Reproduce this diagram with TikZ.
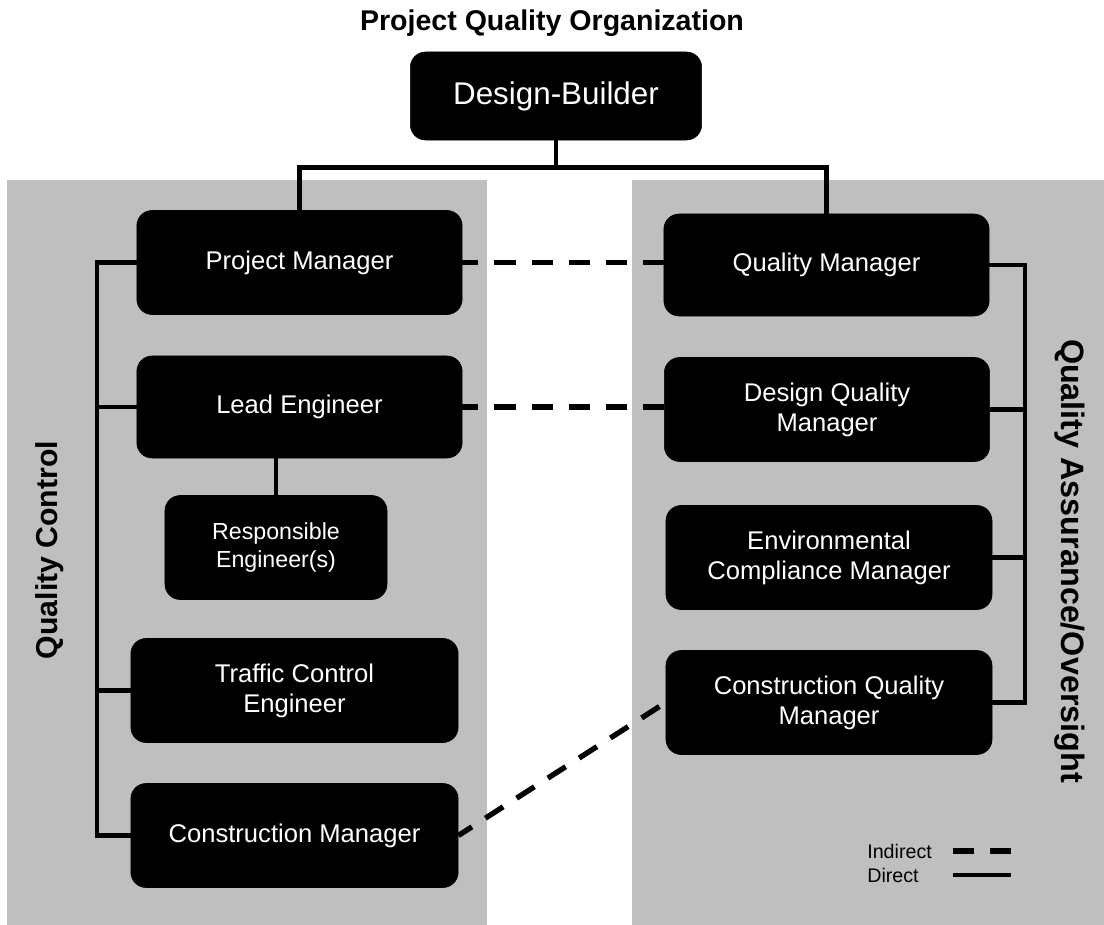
\documentclass[tikz,border=0pt]{standalone}
\usepackage{fontspec}
\setmainfont{Liberation Sans}
\usetikzlibrary{positioning}
\definecolor{panelgray}{RGB}{191,191,191}

\begin{document}
\begin{tikzpicture}[x=0.025cm, y=-0.025cm,
    orgbox/.style={draw=black, fill=black, text=white, rounded corners=0.38cm, align=center, inner sep=2pt, minimum width=8.13cm, minimum height=2.6cm, font=\fontsize{18.2}{21.5}\selectfont},
    direct/.style={line width=3.2pt},
    indirect/.style={line width=3.8pt, dash pattern=on 15pt off 11.4pt, dash phase=3.6pt}]
    \useasboundingbox (0,0) rectangle (1104,925);

    % Grey panels
    \fill[panelgray] (7,180) rectangle (487,925);
    \fill[panelgray] (632,180) rectangle (1104,925);

    % Title
    \node[font=\fontsize{20.3}{24}\selectfont\bfseries] (title) at (552,23) {Project Quality Organization};

    % Top node
    \node[orgbox, minimum width=7.28cm, minimum height=2.2cm, font=\fontsize{22.3}{26}\selectfont] (db) at (556,96) {Design-Builder};

    % Quality control side
    \node[orgbox] (pm) at (299.5,262.5) {Project Manager};
    \node[orgbox, minimum height=2.55cm] (le) at (299.5,407) {Lead Engineer};
    \node[orgbox, minimum width=5.55cm, font=\fontsize{16.5}{19.5}\selectfont] (re) at (276,547.5) {Responsible\\Engineer(s)};
    \node[orgbox, minimum width=8.18cm] (tc) at (294.5,690.5) {Traffic Control\\Engineer};
    \node[orgbox, minimum width=8.18cm] (cm) at (294.5,835.5) {Construction Manager};

    % Quality assurance side
    \node[orgbox, minimum height=2.55cm] (qm) at (826.5,265) {Quality Manager};
    \node[orgbox] (dq) at (827,409.5) {Design Quality\\Manager};
    \node[orgbox, minimum width=8.15cm] (ec) at (829,557.5) {Environmental\\Compliance Manager};
    \node[orgbox, minimum width=8.15cm] (cq) at (829,702.5) {Construction Quality\\Manager};

    % Side labels
    \node[rotate=90, font=\fontsize{21.5}{25}\selectfont\bfseries] (qclabel) at (50,550) {Quality Control};
    \node[rotate=-90, font=\fontsize{23}{27}\selectfont\bfseries] (qalabel) at (1070,561) {Quality Assurance/Oversight};

    % Direct lines
    \path (db.south) ++(0,27) coordinate (split);
    \coordinate (lbus) at (97,0);
    \coordinate (rbus) at (1025,0);
    \draw[direct] (db.south) -- (split);
    \draw[direct] (pm.north) |- (split) -| (qm.north);
    \draw[direct] (pm.west) -- (pm.west -| lbus) |- (cm.west);
    \draw[direct] (le.west) -- (le.west -| lbus);
    \draw[direct] (tc.west) -- (tc.west -| lbus);
    \draw[direct] (re.north) -- (re.north |- le.south);
    \draw[direct] (qm.east) -- (qm.east -| rbus) |- (cq.east);
    \draw[direct] (dq.east) -- (dq.east -| rbus);
    \draw[direct] (ec.east) -- (ec.east -| rbus);

    % Indirect lines
    \draw[indirect] (pm.east) -- (pm.east -| qm.west);
    \draw[indirect] (le.east) -- (le.east -| dq.west);
    \draw[indirect] (cm.east) -- (cq.west);

    % Legend
    \node[anchor=west, inner sep=0pt, font=\fontsize{14}{16}\selectfont] (indkey) at (867,851) {Indirect};
    \node[anchor=west, inner sep=0pt, font=\fontsize{14}{16}\selectfont] (dirkey) at (867,875) {Direct};
    \coordinate (keyl) at (953,0);
    \coordinate (keyr) at (1011,0);
    \draw[indirect, dash phase=0pt] (keyl |- indkey) -- (keyr |- indkey);
    \draw[direct] (keyl |- dirkey) -- (keyr |- dirkey);
\end{tikzpicture}
\end{document}
